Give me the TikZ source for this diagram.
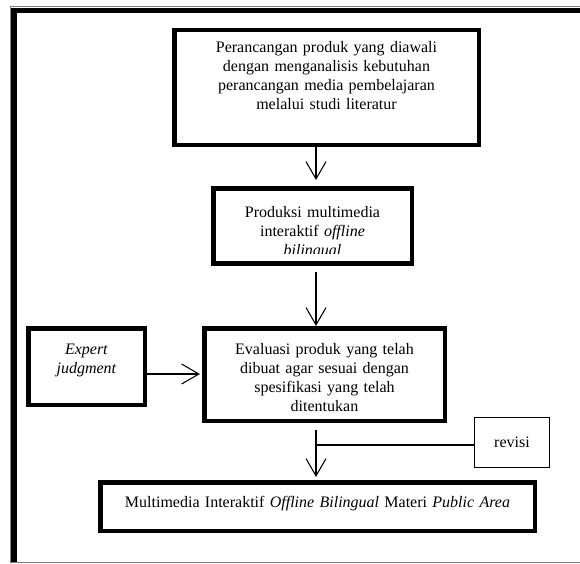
\documentclass[tikz,border=0pt]{standalone}
\usepackage{fontspec}
\setmainfont{Liberation Serif}
\usepackage{tikz}
\usetikzlibrary{arrows.meta,calc}

\tikzset{
  kotak/.style={draw,line width=3.4pt,minimum width=#1},
  kotaktipis/.style={draw,line width=0.75pt,inner sep=0pt},
  teks/.style={anchor=base,inner sep=0pt,text width=300pt,align=center},
  panah/.style={line width=0.8pt,-{Straight Barb[length=13pt,width=15pt]}},
  garis/.style={line width=0.8pt}
}

\begin{document}
\begin{tikzpicture}[x=0.75pt,y=-0.75pt,font=\fontsize{12}{14.25}\selectfont]
                \useasboundingbox (0,0) rectangle (580,563);
                % bingkai luar
                \draw[gray,line width=0.75pt] (10.5,6.5) rectangle (600,562);
                \draw[line width=4pt] (14,562) -- (14,10.5) -- (600,10.5);
                % kotak
                \node[kotak=228.4pt,minimum height=85.9pt] (rancang) at (326.5,87.5) {};
                \node[kotak=148.9pt,minimum height=56.6pt] (produksi) at (312.5,226) {};
                \node[kotak=180.4pt,minimum height=69.4pt] (evaluasi) at (324.5,374.5) {};
                \node[kotak=87.4pt,minimum height=57.4pt] (expert) at (86.5,366.5) {};
                \node[kotak=325.9pt,minimum height=36.4pt] (hasil) at (317.5,506.5) {};
                \node[kotaktipis,minimum width=56.25pt,minimum height=37.5pt] (revisi) at (512,442.5) {revisi};
                % teks
                \node[teks] (rancang-t) at ($(rancang.north)+(0,25)$) {Perancangan produk yang diawali\\ dengan menganalisis kebutuhan\\ perancangan media pembelajaran\\ melalui studi literatur};
                \begin{scope}
                    \clip ($(produksi.north west)+(5,5)$) rectangle ($(produksi.south east)+(-5,-13)$);
                    \node[teks] (produksi-t) at ($(produksi.north)+(0,31)$) {Produksi multimedia\\ interaktif \textit{offline}\\ \textit{bilingual}};
                \end{scope}
                \node[teks] (evaluasi-t) at ($(evaluasi.north)+(0,29)$) {Evaluasi produk yang telah\\ dibuat agar sesuai dengan\\ spesifikasi yang telah\\ ditentukan};
                \node[teks,text width=80pt] (expert-t) at ($(expert.north)+(0,29)$) {\textit{Expert}\\ \textit{judgment}};
                \node[teks,text width=330pt] (hasil-t) at ($(hasil.north)+(0,28)$) {Multimedia Interaktif \textit{Offline Bilingual} Materi \textit{Public Area}};
                % panah
                \coordinate (sumbu) at (316,0);
                \draw[panah] (rancang.south -| sumbu) -- ($(produksi.north -| sumbu)+(0,-6)$);
                \draw[panah] ($(produksi.south -| sumbu)+(0,6)$) -- (evaluasi.north -| sumbu);
                \draw[panah] ($(evaluasi.south -| sumbu)+(0,7)$) -- ($(hasil.north -| sumbu)+(0,-3)$);
                \draw[panah] ($(expert.east)+(0,7.5)$) -- ($(evaluasi.west |- expert.east)+(-2,7.5)$);
                \draw[garis] ($(revisi.west)+(0,2.5)$) -- ($(revisi.west -| sumbu)+(0,2.5)$);
            \end{tikzpicture}
\end{document}
